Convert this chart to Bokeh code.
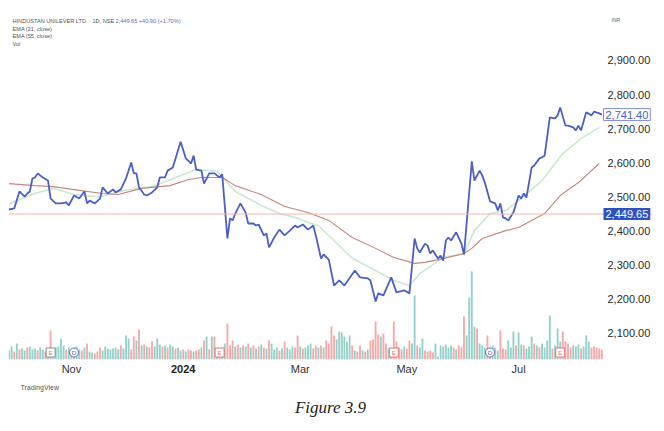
from bokeh.plotting import figure
from bokeh.models import (Range1d, LinearAxis, FixedTicker, NumeralTickFormatter,
                          Span, Label, ColumnDataSource, Title)
from bokeh.core.properties import value
from bokeh.embed import file_html
from bokeh.resources import INLINE

# ---------------- data ----------------
# trading-session index (0 = first bar shown) and close price of the price line vertices
price_session = [0, 2, 4, 6, 7, 8, 9, 10, 11, 13, 15, 16, 18, 20, 22, 23, 25, 27, 29, 30,
                 31, 33, 35, 36, 38, 40, 41, 43, 45, 47, 48, 49, 50, 52, 53, 55, 57, 58, 60, 61,
                 63, 66, 68, 70, 71, 72, 74, 75, 77, 79, 81, 82, 84, 85, 86, 87, 89, 91, 92, 94,
                 95, 96, 98, 99, 100, 102, 104, 106, 108, 110, 111, 113, 115, 117, 118, 120, 121, 123, 125, 127,
                 129, 133, 135, 138, 139, 141, 142, 144, 147, 149, 152, 154, 156, 157, 158, 160, 161, 162, 163, 165,
                 166, 167, 168, 169, 170, 172, 174, 175, 178, 179, 181, 182, 183, 185, 187, 188, 189, 190, 191, 192,
                 194, 196, 197, 198, 199, 201, 202, 204, 205, 206, 208, 210, 211, 212, 214, 215, 217, 218, 219, 220,
                 222, 224, 225, 227, 228]
price_close = [2463, 2466, 2516, 2501, 2510, 2516, 2554, 2557, 2569, 2557, 2548, 2495, 2481, 2481, 2484, 2475, 2504, 2495, 2516, 2481,
               2489, 2481, 2495, 2528, 2510, 2522, 2513, 2522, 2554, 2601, 2569, 2569, 2528, 2507, 2504, 2513, 2528, 2557, 2557, 2577,
               2586, 2662, 2613, 2598, 2621, 2580, 2577, 2539, 2569, 2569, 2557, 2566, 2378, 2437, 2431, 2451, 2481, 2454, 2422, 2422,
               2416, 2419, 2387, 2393, 2352, 2381, 2404, 2387, 2401, 2416, 2410, 2419, 2404, 2416, 2387, 2319, 2331, 2316, 2240, 2255,
               2240, 2284, 2264, 2261, 2255, 2193, 2217, 2211, 2264, 2220, 2226, 2217, 2378, 2349, 2337, 2363, 2357, 2334, 2343, 2319,
               2328, 2313, 2372, 2381, 2372, 2396, 2363, 2331, 2604, 2548, 2577, 2563, 2542, 2487, 2481, 2460, 2481, 2440, 2437, 2431,
               2454, 2504, 2495, 2510, 2498, 2586, 2592, 2613, 2616, 2621, 2733, 2730, 2739, 2762, 2709, 2709, 2704, 2695, 2709, 2695,
               2748, 2739, 2750, 2745, 2741.40]

ema21_session = [0, 10, 17, 25, 35, 45, 55, 65, 72, 80, 87, 97, 104, 110, 115, 119, 125, 132, 141, 148,
                 154, 158, 167, 175, 179, 185, 191, 196, 205, 213, 220, 227]
ema21_value = [2480, 2510, 2525, 2507, 2500, 2520, 2530, 2560, 2580, 2575, 2516, 2475, 2451, 2440, 2425, 2416, 2372, 2320, 2284, 2255,
               2240, 2275, 2322, 2334, 2401, 2451, 2460, 2489, 2548, 2627, 2671, 2704]

ema55_session = [0, 10, 17, 27, 36, 42, 51, 62, 69, 74, 82, 87, 97, 106, 115, 123, 132, 141, 148, 156,
                 160, 167, 175, 178, 182, 191, 196, 201, 206, 212, 219, 227]
ema55_value = [2539, 2533, 2530, 2519, 2510, 2507, 2525, 2533, 2551, 2557, 2557, 2533, 2507, 2472, 2454, 2431, 2381, 2349, 2322, 2305,
               2308, 2319, 2334, 2349, 2378, 2401, 2410, 2431, 2451, 2504, 2542, 2598]

# daily volume in lakh shares, one per session
vol_lakh = [9, 13, 8, 16, 10, 11, 9, 12, 13, 10,
            11, 9, 12, 10, 8, 11, 29, 10, 12, 13,
            21, 14, 10, 12, 9, 11, 13, 10, 9, 12,
            16, 8, 7, 6, 8, 12, 9, 13, 11, 10,
            11, 12, 10, 14, 11, 24, 21, 10, 23, 19,
            30, 14, 15, 13, 12, 18, 13, 21, 15, 13,
            14, 12, 15, 13, 11, 12, 9, 10, 8, 10,
            9, 8, 9, 10, 12, 19, 23, 10, 23, 23,
            11, 9, 12, 16, 36, 14, 19, 13, 15, 12,
            14, 13, 16, 12, 14, 11, 13, 15, 12, 11,
            19, 16, 10, 12, 9, 11, 18, 12, 10, 13,
            12, 24, 13, 11, 12, 14, 16, 11, 14, 12,
            14, 12, 19, 16, 33, 24, 20, 28, 27, 23,
            18, 24, 14, 9, 8, 14, 9, 8, 10, 19,
            20, 38, 25, 23, 26, 16, 11, 10, 38, 18,
            12, 10, 13, 11, 19, 16, 64, 14, 12, 21,
            9, 8, 9, 7, 16, 3, 14, 13, 15, 12,
            14, 12, 10, 14, 12, 43, 24, 62, 88, 33,
            31, 16, 14, 12, 24, 10, 14, 12, 9, 29,
            11, 10, 19, 12, 28, 14, 27, 15, 14, 11,
            13, 23, 16, 14, 12, 16, 12, 19, 44, 11,
            14, 31, 18, 28, 18, 16, 12, 14, 13, 15,
            11, 13, 24, 18, 12, 13, 12, 11, 10]
# whether each session closed up (u) or down (d)
vol_dir_blocks = ["uududuuduu", "uduududuuu", "uuduuduudu", "duuddduuuu", "uuuduuuddu",
                  "dududduuud", "uduuduudud", "duddududud", "uduudddudu", "dududududu",
                  "duuududuuu", "dduduuuddu", "dudddduuuu", "uududdudud", "dddudduddd",
                  "ddudduuduu", "dddduuuuuu", "ududdduuuu", "duuudduuud", "dduuuduudu",
                  "uududuuuud", "uuudddduuu", "duuuddddd"]
vol_dir = list("".join(vol_dir_blocks))

month_ticks = [24, 67, 112, 153, 196]
month_labels = ["Nov", "2024", "Mar", "May", "Jul"]
year_ticks = [67]  # year-start tick shown in bold
price_ticks = [2100, 2200, 2300, 2400, 2500, 2600, 2700, 2800, 2900]
last_price = 2741.40
ref_price = 2449.65

event_session = [16, 25, 81, 148, 185, 212]
event_kind = ["E", "D", "E", "E", "D", "E"]
event_color = ["#8c8c8c", "#5c6bc0", "#e57373", "#e57373", "#5c6bc0", "#e57373"]

header = "HINDUSTAN UNILEVER LTD. · 1D, NSE"
header_quote = "2,449.65  +40.90 (+1.70%)"
legend_lines = ["EMA (21, close)", "EMA (55, close)", "Vol"]

# ---------------- figure ----------------
FW, FH = 644, 351
PX = 2.6  # pixels per session
p = figure(frame_width=FW, frame_height=FH,
           x_range=Range1d(-0.2, -0.2 + FW / PX), y_range=Range1d(2023.1, 3052.5),
           output_backend="svg", toolbar_location=None,
           x_axis_location=None, y_axis_location=None,
           min_border_left=8, min_border_top=8, min_border_bottom=0, min_border_right=2)
p.outline_line_color = None
p.xgrid.visible = False
p.ygrid.visible = False
p.background_fill_color = "white"
p.border_fill_color = "white"
p.extra_y_ranges = {"vol": Range1d(0, FH)}

up_col, dn_col = "#26a69a", "#ef5350"
n = min(len(vol_lakh), len(vol_dir))
vsrc = ColumnDataSource(dict(x=list(range(n)), top=vol_lakh[:n],
                             c=[up_col if d == "u" else dn_col for d in vol_dir[:n]]))
p.vbar(x="x", top="top", bottom=0, width=0.72, fill_color="c", line_color=None,
       fill_alpha=0.5, y_range_name="vol", source=vsrc)

data_right = 595  # screen px where the price area ends
p.add_layout(Span(location=ref_price, dimension="width", line_color="#f2b6ae", line_width=1))

p.line(ema21_session, ema21_value, line_color="#a8d8b0", line_width=1.6, line_alpha=0.6)
p.line(ema55_session, ema55_value, line_color="#c4877d", line_width=1.1)
p.line(price_session, price_close, line_color="#4b5fc4", line_width=1.8)

# events (earnings / dividend) on the volume baseline
esrc = ColumnDataSource(dict(x=event_session, y=[7] * len(event_session), t=event_kind,
                             c=event_color,
                             m=["square" if k == "E" else "circle" for k in event_kind]))
p.scatter(x="x", y="y", marker="m", size=9, fill_color="white", line_color="c",
          line_width=1, y_range_name="vol", source=esrc)
p.text(x="x", y="y", text="t", text_color="c", text_font_size="6px", text_align="center",
       text_baseline="middle", y_range_name="vol", source=esrc, text_font=value("Liberation Sans"))

# axes
overrides = {t: l for t, l in zip(month_ticks, month_labels)}


def style_x(ax, standoff, bold):
    ax.axis_line_color = None
    ax.major_tick_line_color = None
    ax.minor_tick_line_color = None
    ax.major_tick_out = 0
    ax.major_tick_in = 0
    ax.major_label_standoff = standoff
    ax.major_label_text_font = "Liberation Sans"
    ax.major_label_text_font_size = "11px"
    ax.major_label_text_font_style = "bold" if bold else "normal"
    ax.major_label_text_color = "#222222" if bold else "#333333"


xa = LinearAxis(ticker=FixedTicker(ticks=[t for t in month_ticks if t not in year_ticks]),
                major_label_overrides=overrides)
style_x(xa, 3, False)
p.add_layout(xa, "below")
xa2 = LinearAxis(ticker=FixedTicker(ticks=year_ticks), major_label_overrides=overrides)
style_x(xa2, -13, True)
p.add_layout(xa2, "below")

ya = LinearAxis(ticker=FixedTicker(ticks=price_ticks), formatter=NumeralTickFormatter(format="0,0.00"))
ya.axis_line_color = None
ya.major_tick_line_color = None
ya.minor_tick_line_color = None
ya.major_tick_out = 0
ya.major_tick_in = 0
ya.major_label_standoff = -45
ya.major_label_text_font = "Liberation Sans"
ya.major_label_text_font_size = "11px"
ya.major_label_text_color = "#2a2a2a"
p.add_layout(ya, "right")

hf = "Liberation Sans"
# price tags
p.add_layout(Label(x=data_right, y=last_price, x_units="screen", text=f"{last_price:,.2f}",
                   text_font=hf, text_font_size="11px", text_color="#4b5fc4",
                   text_baseline="middle", background_fill_color="white",
                   border_line_color="#7f8fd8", border_line_width=1, padding=2))
p.add_layout(Label(x=data_right, y=ref_price, x_units="screen", text=f"{ref_price:,.2f}",
                   text_font=hf, text_font_size="11px", text_color="white",
                   text_baseline="middle", background_fill_color="#2f50bf", padding=2))

# header legend
p.add_layout(Label(x=4, y=FH - 12, x_units="screen", y_units="screen", text=header, text_font=hf,
                   text_font_size="5.6px", text_color="#555555", text_baseline="middle"))
p.add_layout(Label(x=107, y=FH - 12, x_units="screen", y_units="screen", text=header_quote, text_font=hf,
                   text_font_size="5.6px", text_color="#5c6bc0", text_baseline="middle"))
for i, t in enumerate(legend_lines):
    p.add_layout(Label(x=4, y=FH - 20 - 7.7 * i, x_units="screen", y_units="screen", text=t, text_font=hf,
                       text_font_size="5.6px", text_color="#555555", text_baseline="middle"))
p.add_layout(Label(x=data_right + 8, y=FH - 11, x_units="screen", y_units="screen", text="INR", text_font=hf,
                   text_font_size="5px", text_color="#666666", text_baseline="middle"))

# footer
p.add_layout(Title(text="TradingView", align="left", offset=12, text_font=hf, text_font_size="7px",
                   text_font_style="normal", text_color="#555555", standoff=8), "below")
p.add_layout(Title(text="Figure 3.9", align="center", text_font="Liberation Serif", text_font_size="17px",
                   text_font_style="italic", text_color="#222222", standoff=2), "below")

open("out.html", "w").write(file_html(p, INLINE))
